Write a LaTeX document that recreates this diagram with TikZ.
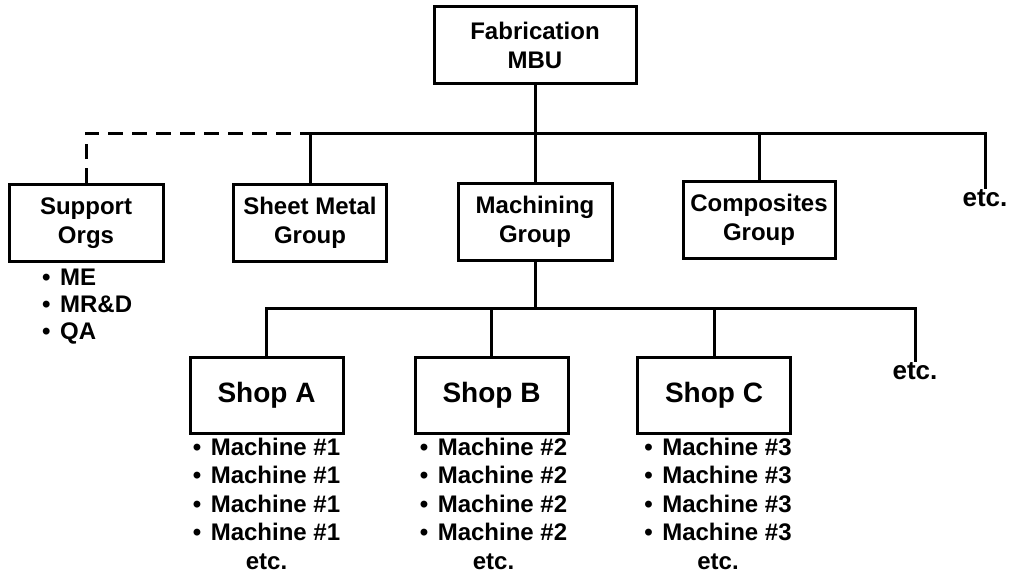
\documentclass[tikz,border=0pt]{standalone}
\usepackage{fontspec}
\setmainfont{Liberation Sans}
\begin{document}
\begin{tikzpicture}[x=1pt,y=-1pt,
  box/.style={draw,line width=3pt,minimum width=#1,minimum height=77pt,inner sep=0pt,align=center,
    font=\bfseries\fontsize{24}{29}\selectfont},
  shopbox/.style={draw,line width=3pt,minimum width=153pt,minimum height=76pt,inner sep=0pt,
    font=\bfseries\fontsize{28}{32}\selectfont},
  conn/.style={line width=3pt},
  dashconn/.style={line width=3pt,dash pattern=on 15pt off 9pt},
  etctext/.style={font=\bfseries\fontsize{26}{28}\selectfont,inner sep=0pt},
  listtext/.style={font=\bfseries\fontsize{24}{28.5}\selectfont,inner sep=0pt,align=center},
  suptext/.style={font=\bfseries\fontsize{24}{27}\selectfont,inner sep=0pt,align=left}]
\useasboundingbox (0,0) rectangle (1009,582);
\newcommand{\bul}{\makebox[18pt][l]{•}}
% level 0
\node[box=202pt] (fab) at (535,45) {Fabrication\\MBU};
% level 1
\node[box=154pt] (sup) at (86,223) {Support\\Orgs};
\node[box=153pt] (sheet) at (310,222.5) {Sheet Metal\\Group};
\node[box=154pt] (mach) at (535,221.5) {Machining\\Group};
\node[box=152pt] (comp) at (759,220) {Composites\\Group};
\node[etctext,anchor=north] (etc1) at (985,189) {etc.};
\coordinate (busR) at (985,133);
% level 2
\node[shopbox] (shopA) at (266.5,395) {Shop A};
\node[shopbox] (shopB) at (491.5,395) {Shop B};
\node[shopbox] (shopC) at (714,395) {Shop C};
\node[etctext,anchor=north] (etc2) at (915,362) {etc.};
\coordinate (busR2) at (915,308);
% lists
\node[suptext,anchor=north west] (suplist) at (42,269) {\bul ME\\\bul MR\&D\\\bul QA};
\node[listtext,anchor=north] (listA) at ([yshift=-3pt]shopA.south) {\bul Machine \#1\\\bul Machine \#1\\\bul Machine \#1\\\bul Machine \#1\\etc.};
\node[listtext,anchor=north] (listB) at ([xshift=2pt,yshift=-3pt]shopB.south) {\bul Machine \#2\\\bul Machine \#2\\\bul Machine \#2\\\bul Machine \#2\\etc.};
\node[listtext,anchor=north] (listC) at ([xshift=4pt,yshift=-3pt]shopC.south) {\bul Machine \#3\\\bul Machine \#3\\\bul Machine \#3\\\bul Machine \#3\\etc.};
% connectors upper
\draw[conn] (fab.south) -- (mach.north);
\draw[conn] (sheet.north) |- (busR) -- (etc1.north);
\draw[conn] (comp.north) -- (comp.north |- busR);
\draw[dashconn] (sup.north) |- (sheet.north |- busR);
% connectors lower
\draw[conn] (mach.south) -- (mach.south |- busR2);
\draw[conn] (shopA.north) |- (busR2) -- (etc2.north);
\draw[conn] (shopB.north) -- (shopB.north |- busR2);
\draw[conn] (shopC.north) -- (shopC.north |- busR2);
\end{tikzpicture}
\end{document}
